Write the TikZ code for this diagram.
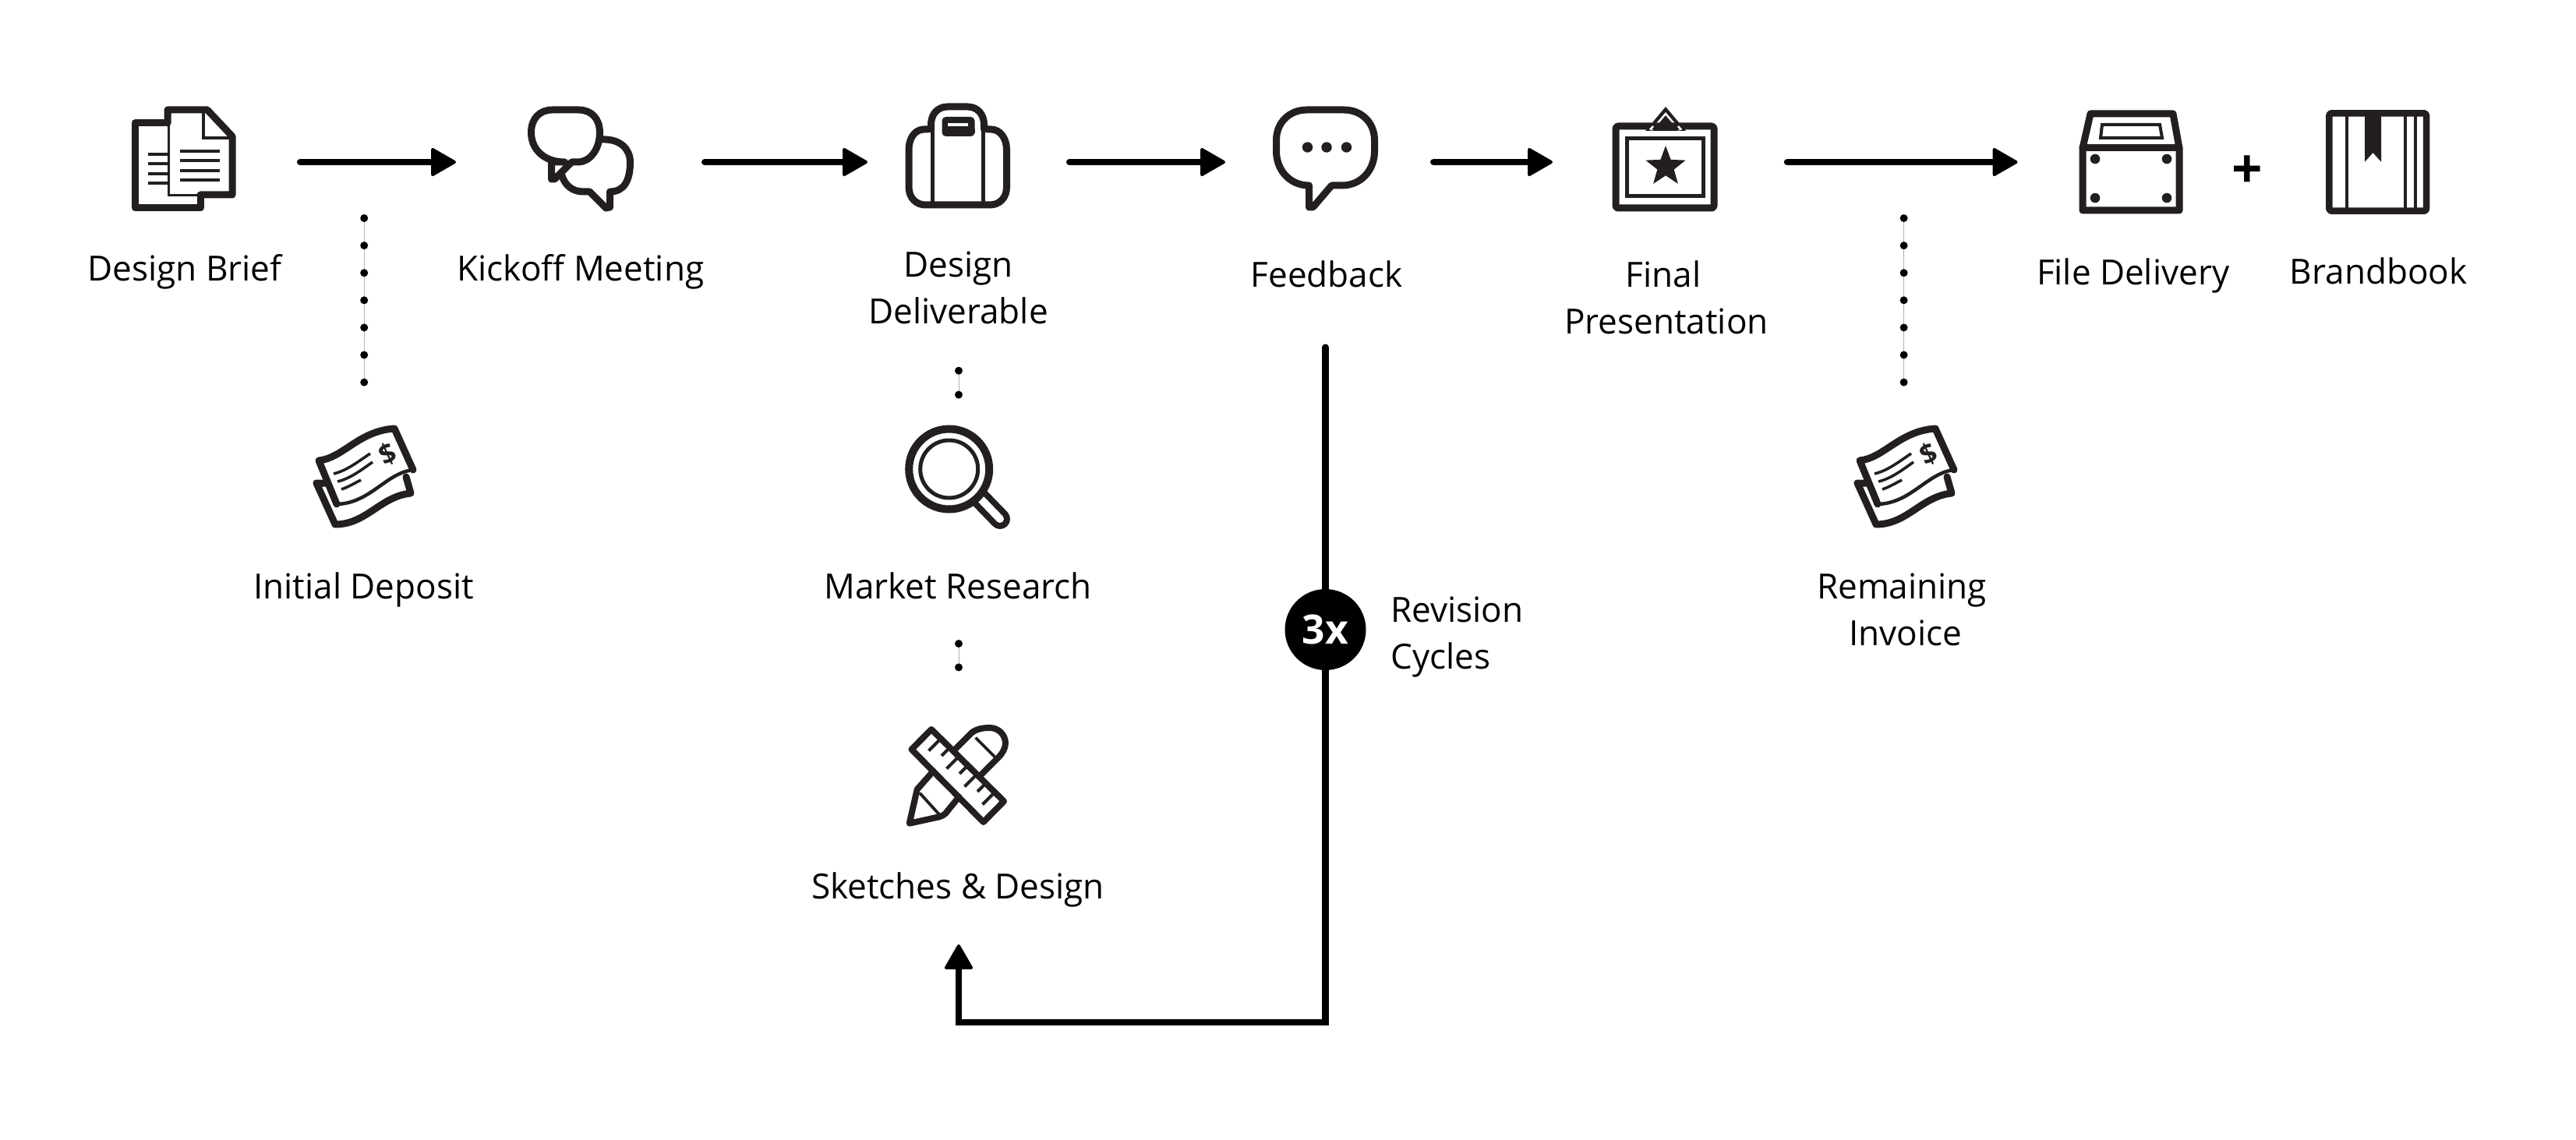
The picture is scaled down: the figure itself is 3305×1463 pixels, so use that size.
\documentclass[tikz,border=0pt]{standalone}
\usepackage{fontspec}
\setmainfont{Open Sans}[FakeStretch=0.99]
\usetikzlibrary{arrows.meta,shapes.geometric}
\definecolor{ink}{HTML}{231F20}
\tikzset{
  lbl/.style={font=\fontsize{44.5}{59.5}\selectfont,align=center,anchor=base,inner sep=0pt,text=black},
  lblL/.style={lbl,align=left,anchor=base west},
  iconbox/.style={rectangle,inner sep=0pt,outer sep=0pt,minimum width=#1},
  flow/.style={line width=8.5pt,draw=black,line cap=round,line join=miter,-{Triangle[length=34pt,width=38pt,line width=4pt,round]}},
  dotsline/.style={line width=10pt,line cap=round,draw=black,dash pattern=on 0pt off #1pt},
  hair/.style={line width=0.5pt,draw=black!30},
  thick8/.style={line width=9pt,draw=ink,line join=round,line cap=round},
  thin4/.style={line width=4pt,draw=ink,line join=miter,line cap=butt},
}
\newcommand{\chequeicon}[1]{%
  \begin{scope}[xshift=#1pt]
    \draw[thick8] (422,620) -- (406,620) -- (430,673) .. controls (470,673) and (488,637) .. (527,633) -- (521,612);
    \fill[white] (409,591) .. controls (440,588) and (460,553) .. (506,550) -- (530,603) .. controls (495,607) and (475,646) .. (432,647) -- cycle;
    \draw[thick8] (432,647) -- (409,591) .. controls (440,588) and (460,553) .. (506,550) -- (530,603);
    \draw[line width=4.5pt,draw=ink,line cap=round] (530,603) .. controls (495,607) and (475,646) .. (432,647);
    \draw[line width=3.6pt,draw=ink] (428,608) .. controls (445,604) and (460,592) .. (475,582);
    \draw[line width=3.6pt,draw=ink] (433,618) .. controls (450,614) and (465,602) .. (478,593);
    \draw[line width=3.6pt,draw=ink] (438,628) .. controls (447,625) and (455,620) .. (463,616);
    \node[rotate=25,inner sep=0pt,text=ink,font=\fontsize{36}{36}\selectfont\bfseries] at (497,583) {\$};
  \end{scope}}
\begin{document}
\begin{tikzpicture}[x=1pt,y=-1pt]
\useasboundingbox (0,0) rectangle (3305,1463);
\fill[white] (0,0) rectangle (3305,1463);

% placeholder nodes holding the icons' extents
\node[iconbox=133pt,minimum height=134pt] (brief) at (235.7,208) {};
\node[iconbox=134pt,minimum height=134pt] (kickoff) at (745,208) {};
\node[iconbox=133.4pt,minimum height=134pt] (deliv) at (1228.7,208) {};
\node[iconbox=133pt,minimum height=134pt] (feedback) at (1700.5,208) {};
\node[iconbox=133pt,minimum height=134pt] (final) at (2136.5,208) {};
\node[iconbox=132pt,minimum height=134pt] (filedel) at (2734,208) {};
\node[iconbox=133pt,minimum height=134pt] (brandbook) at (3050.6,208) {};
\node[iconbox=132pt,minimum height=135pt] (deposit) at (467.2,612.5) {};
\node[iconbox=132pt,minimum height=135pt] (invoice) at (2442.6,612.5) {};
\node[iconbox=134pt,minimum height=134pt] (lens) at (1230,612) {};
\node[iconbox=133pt,minimum height=133pt] (sketch) at (1230,995.8) {};

% labels
\node[lbl] (lbrief) at (237,360) {Design Brief};
\node[lbl] (lkick) at (745,360) {Kickoff Meeting};
\node[lbl] (ldeliv) at (1229.6,415) {Design\\Deliverable};
\node[lbl] (lfeed) at (1702,368) {Feedback};
\node[lbl] (lfinal) at (2138,428) {Final\hspace*{8pt}\\Presentation};
\node[lbl] (lfile) at (2736.6,365) {File Delivery};
\node[lbl] (lbrand) at (3051.7,364.5) {Brandbook};
\node[lbl] (ldep) at (466.7,768) {Initial Deposit};
\node[lbl] (lmarket) at (1229,768.7) {Market Research};
\node[lbl] (lsketch) at (1229,1153.3) {Sketches \& Design};
\node[lbl] (linv) at (2444.5,828.3) {Remaining\hspace*{9pt}\\Invoice};
\node[lblL] (lrev) at (1784,858) {Revision\\Cycles};
\node[inner sep=0pt,font=\fontsize{70}{70}\selectfont\bfseries,text=black] (plus) at (2883.7,220.5) {+};

% flow arrows
\draw[flow,shorten <=83pt,shorten >=93pt] (brief.east) -- (kickoff.west);
\draw[flow,shorten <=92.25pt,shorten >=49pt] (kickoff.east) -- (deliv.west);
\draw[flow,shorten <=76.85pt,shorten >=62pt] (deliv.east) -- (feedback.west);
\draw[flow,shorten <=72.25pt,shorten >=78pt] (feedback.east) -- (final.west);
\draw[flow,shorten <=90pt,shorten >=79.5pt] (final.east) -- (filedel.west);

% dotted links
\coordinate (dotA) at (467.2,280);
\coordinate (dotB) at (2442.6,280);
\coordinate (dotC) at (1230,475.7);
\coordinate (dotD) at (1230,826);
\draw[hair,shorten >=53.5pt] (dotA) -- (deposit.north);
\draw[hair,shorten >=53.5pt] (dotB) -- (invoice.north);
\draw[hair,shorten >=38.3pt] (dotC) -- (lens.north);
\draw[hair,shorten >=72.8pt] (dotD) -- (sketch.north);
\draw[dotsline=35.1,shorten >=53.5pt] (dotA) -- (deposit.north);
\draw[dotsline=35.1,shorten >=53.5pt] (dotB) -- (invoice.north);
\draw[dotsline=30.9,shorten >=38.3pt] (dotC) -- (lens.north);
\draw[dotsline=30.4,shorten >=72.8pt] (dotD) -- (sketch.north);

% revision loop
\coordinate (loopA) at (1700.5,1312);
\coordinate (loopB) at (1230,1312);
\draw[flow,shorten <=170.7pt,shorten >=149.7pt] (feedback.south) -- (loopA) -- (loopB) -- (sketch.south);
\node[circle,fill=black,minimum size=104pt,inner sep=0pt,text=white,font=\fontsize{52}{52}\selectfont\bfseries] (cycles) at (1700.5,808) {3x};

%%% icons
% documents
\begin{scope}[xshift=-1pt]
\draw[thick8] (212,158) -- (174,158) -- (174,267) -- (258,267) -- (258,252);
\draw[line width=3.5pt,draw=ink] (217.5,158) -- (217.5,250.5) -- (262,250.5);
\draw[thick8] (216,158) -- (216,141) -- (267,141) -- (299,175) -- (299,250) -- (258,250);
\draw[line width=3.5pt,draw=ink] (262,141) -- (262,177) -- (298,177);
\foreach \y in {194,206,218.7,231} \draw[thin4] (232,\y) -- (283,\y);
\foreach \y in {198,210,223,235} \draw[thin4] (191,\y) -- (216,\y);
\end{scope}

% kickoff bubbles
\begin{scope}[xshift=-3.5pt]
\draw[thick8] (728,208) .. controls (702,208) and (685,192) .. (685,170) .. controls (685,152) and (696,141) .. (712,141)
  -- (746,141) .. controls (762,141) and (773,152) .. (773,170) .. controls (773,192) and (760,208) .. (745,208) -- (737,208) -- (715,230) -- (711,230) -- (711,208) -- (728,208);
\draw[thick8] (776,179) .. controls (800,178) and (812,192) .. (812,208) .. controls (812,232) and (804,246) .. (786,246) -- (786,266) -- (781,267) -- (760,246) -- (752,246) .. controls (738,246) and (728,238) .. (724,224);
\end{scope}

% bag
\begin{scope}[xshift=-0.5pt]
\draw[thick8] (1191,166) -- (1186,166) .. controls (1174,166) and (1166.5,178) .. (1166.5,192) -- (1166.5,240) .. controls (1166.5,254) and (1176,263) .. (1188,263)
  -- (1270,263) .. controls (1283,263) and (1292,254) .. (1292,240) -- (1292,192) .. controls (1292,178) and (1284,166) .. (1272,166) -- (1267,166);
\draw[thick8] (1195,166) -- (1195,160) .. controls (1195,146) and (1204,137) .. (1216,137) -- (1242,137) .. controls (1254,137) and (1263,146) .. (1263,160) -- (1263,166);
\draw[line width=5pt,draw=ink] (1197,162) -- (1197,263);
\draw[line width=5pt,draw=ink] (1262,162) -- (1262,263);
\fill[ink,rounded corners=5pt] (1209,175) -- (1209,150) -- (1251,150) -- (1251,175) -- cycle;
\fill[ink] (1209,165) rectangle (1251,171);
\fill[white] (1216,158) rectangle (1242,162);
\end{scope}

% feedback bubble
\begin{scope}[xshift=-3.5pt]
\draw[thick8] (1683,238) -- (1683,266) -- (1688,266) -- (1712,238) -- (1725,238)
  .. controls (1750,238) and (1767,218) .. (1767,194) -- (1767,180) .. controls (1767,157) and (1750,141) .. (1728,141)
  -- (1680,141) .. controls (1658,141) and (1641,157) .. (1641,180) -- (1641,194) .. controls (1641,218) and (1658,238) .. (1683,238);
\foreach \x in {1681,1705.5,1731} \fill[ink] (\x,189) circle[radius=6.7];
\end{scope}

% final presentation
\begin{scope}[xshift=-1pt]
\fill[ink] (2138,137) -- (2112,168) -- (2164,168) -- cycle;
\draw[line width=2.5pt,draw=white] (2120,167) -- (2138,146) -- (2156,167);
\draw[thick8,rounded corners=3pt] (2074,162) rectangle (2200,267);
\draw[line width=2.5pt,draw=white] (2118,166.5) -- (2122,162);
\draw[line width=2.5pt,draw=white] (2158,166.5) -- (2154,162);
\draw[line width=5pt,draw=ink] (2088.5,177.5) rectangle (2186.5,251.5);
\node[star,star points=5,star point ratio=2.4,fill=ink,minimum size=54pt,inner sep=0pt] (starmark) at (2138,214) {};
\end{scope}

% file box
\begin{scope}[xshift=-2pt]
\draw[thick8] (2684,146) -- (2790,146) -- (2798,190) -- (2798,270) -- (2674,270) -- (2674,190) -- cycle;
\draw[thick8] (2674,190) -- (2798,190);
\draw[thin4] (2699,160) -- (2773,160) -- (2776,177) -- (2697,177) -- cycle;
\foreach \x in {2690,2782} \foreach \y in {204,254} \fill[ink] (\x,\y) circle[radius=6.3];
\end{scope}

% brandbook
\foreach \x in {3011,3086,3098.7} \draw[line width=4pt,draw=ink] (\x,146) -- (\x,270);
\draw[line width=8.5pt,draw=ink,line join=round,rounded corners=3pt] (2988.3,145.3) rectangle (3113,270.7);
\fill[ink] (3034,146) -- (3055,146) -- (3055,207.7) -- (3044.5,196) -- (3034,207.7) -- cycle;

% cheques
\chequeicon{0}
\chequeicon{1977}

% magnifier
\draw[line width=26pt,draw=ink,line cap=round] (1252,634) -- (1283,666);
\draw[line width=10pt,draw=white,line cap=round] (1256,638) -- (1283,666);
\fill[white] (1217.7,602) circle[radius=52];
\draw[line width=10pt,draw=ink] (1217.7,602) circle[radius=51.5];
\draw[line width=5pt,draw=ink] (1217.7,602) circle[radius=37];

% pencil and ruler
\draw[line width=8pt,draw=ink,line join=round,line cap=round] (1223,964) -- (1247,940) .. controls (1254,935) and (1262,934) .. (1270,934) .. controls (1281,934) and (1290,943) .. (1290,954) .. controls (1290,960) and (1286,967) .. (1281,972) -- (1256,997);
\draw[line width=8pt,draw=ink,line join=round,line cap=round] (1197.4,989.6) -- (1176.7,1013) -- (1166.7,1056.7) -- (1205,1048.3) .. controls (1208,1047.5) and (1211,1046) .. (1213,1044) -- (1230.4,1022.6);
\draw[line width=3.8pt,draw=ink] (1251.7,946.7) -- (1278.3,973.3);
\draw[line width=3.8pt,draw=ink] (1180,1017.7) -- (1205.7,1046);
\draw[line width=8pt,draw=ink,line join=round] (1195,936) -- (1169.5,961.7) -- (1261.7,1055) -- (1288,1028.3) -- cycle;
\foreach \i/\l in {0/15.5,1/10.4,2/15.5,3/10.4,4/15.5,5/10.4,6/15.5}
  \draw[line width=4pt,draw=ink] ({1207+11.5*\i},{948+11.5*\i}) -- ++(-\l,\l);
\end{tikzpicture}
\end{document}
